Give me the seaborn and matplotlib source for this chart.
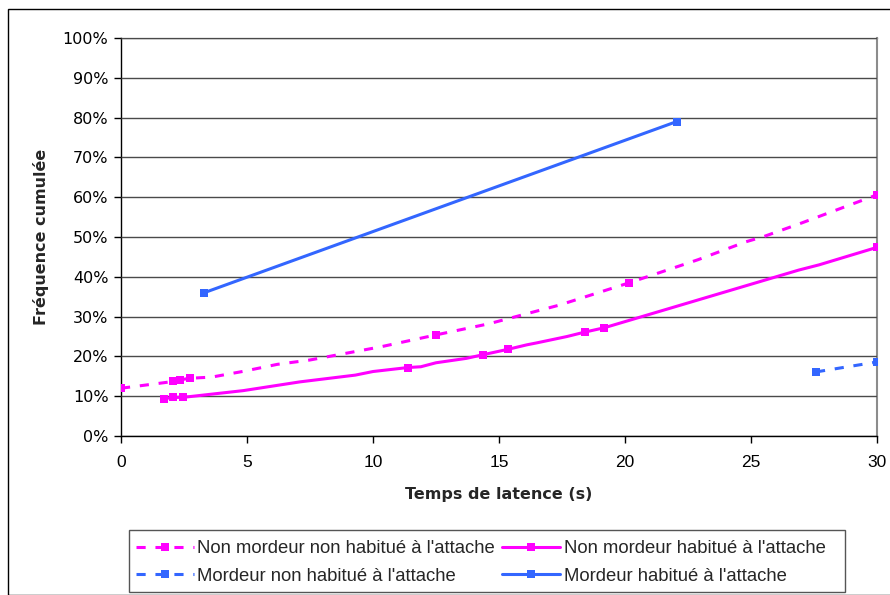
import matplotlib
matplotlib.use("Agg")
import matplotlib.pyplot as plt
import matplotlib.patches as mpatches
from matplotlib.ticker import FuncFormatter
import seaborn as sns
import pandas as pd

# Latency time (s) and cumulative frequency (%) per group
nmnh_x = [0, 2.08, 2.34, 2.72, 3.6, 4.9, 6.2, 7.5, 10.3, 12.5, 14.6, 17.4, 20.17, 22.9, 24.8, 25.5, 27.0, 30]
nmnh_y = [12.0, 13.7, 14.1, 14.5, 14.8, 16.3, 18.0, 19.1, 22.4, 25.4, 28.2, 32.9, 38.5, 44.3, 48.8, 50.1, 53.5, 60.6]
nmnh_marked = [0, 1, 2, 3, 9, 12, 17]

nmh_x = [1.72, 2.08, 2.45, 4.85, 7.1, 9.3, 10.0, 11.38, 11.9, 12.5, 13.7, 14.35, 15.37, 16.1, 16.5, 17.7, 18.4, 19.18, 26.9, 27.7, 30]
nmh_y = [9.4, 9.7, 9.7, 11.4, 13.6, 15.3, 16.2, 17.2, 17.4, 18.4, 19.5, 20.4, 21.8, 22.9, 23.4, 25.0, 26.1, 27.2, 41.7, 43.0, 47.4]
nmh_marked = [0, 1, 2, 7, 11, 12, 16, 17, 20]

mnh_x = [27.58, 30]
mnh_y = [16.1, 18.6]

mh_x = [3.3, 22.05]
mh_y = [36.0, 79.0]

labels = [
    "Non mordeur non habitué à l'attache",
    "Non mordeur habitué à l'attache",
    "Mordeur non habitué à l'attache",
    "Mordeur habitué à l'attache",
]

x_ticks = [0, 5, 10, 15, 20, 25, 30]
y_ticks = [0, 10, 20, 30, 40, 50, 60, 70, 80, 90, 100]

MAGENTA = "#FF00FF"
BLUE = "#3366FF"

sns.set_theme(style="white")
plt.rcParams["font.family"] = ["DejaVu Sans"]

fig = plt.figure(figsize=(8.9, 5.95), dpi=100)
ax = fig.add_axes([121 / 890, 1 - 436 / 595, (877 - 121) / 890, (436 - 38) / 595])

series = [
    (nmnh_x, nmnh_y, nmnh_marked, MAGENTA, (0, (3, 3.2)), labels[0]),
    (nmh_x, nmh_y, nmh_marked, MAGENTA, "-", labels[1]),
    (mnh_x, mnh_y, None, BLUE, (0, (3, 3.2)), labels[2]),
    (mh_x, mh_y, None, BLUE, "-", labels[3]),
]

handles = {}
for xs, ys, marked, color, ls, lab in series:
    df = pd.DataFrame({"t": xs, "f": ys})
    sns.lineplot(data=df, x="t", y="f", ax=ax, color=color, linewidth=2.2,
                 linestyle=ls, sort=False, estimator=None, legend=False)
    line = ax.lines[-1]
    line.set_marker("s")
    line.set_markersize(6)
    line.set_markerfacecolor(color)
    line.set_markeredgecolor(color)
    line.set_markeredgewidth(0)
    if marked is not None:
        line.set_markevery(marked)
    handles[lab] = line

ax.set_xlim(0, 30)
ax.set_ylim(0, 100)
ax.set_xticks(x_ticks)
ax.set_yticks(y_ticks)
ax.yaxis.set_major_formatter(FuncFormatter(lambda v, p: f"{int(v)}%"))
ax.tick_params(axis="both", which="major", direction="out", length=5, width=1,
               color="black", labelcolor="black", bottom=True, left=True)
ax.tick_params(axis="y", labelsize=11.5, pad=4)
ax.tick_params(axis="x", labelsize=12.5, pad=9)
for t in ax.get_xticklabels():
    t.set_fontfamily("Liberation Sans")

ax.grid(axis="y", color="#4a4a4a", linewidth=1.0)
ax.grid(axis="x", visible=False)
ax.set_axisbelow(True)

for side in ("left", "bottom"):
    ax.spines[side].set_color("black")
    ax.spines[side].set_linewidth(1.0)
ax.spines["right"].set_color("#8c8c8c")
ax.spines["right"].set_linewidth(1.5)
ax.spines["top"].set_color("#8c8c8c")
ax.spines["top"].set_linewidth(1.0)
for s in ax.spines.values():
    s.set_zorder(0.5)

ax.set_xlabel("Temps de latence (s)", fontsize=11.5, fontweight="bold", labelpad=12)
ax.set_ylabel("Fréquence cumulée", fontsize=11.5, fontweight="bold", labelpad=10)

# legend entries laid out in two columns, framed by a separate box
order = [labels[0], labels[2], labels[1], labels[3]]
leg = fig.legend([handles[k] for k in order], order, ncol=2,
                 loc="center left", bbox_to_anchor=(136 / 890, 1 - 562.5 / 595),
                 frameon=False,
                 handlelength=3.15, handletextpad=0.17, columnspacing=0.39,
                 labelspacing=0.55, borderaxespad=0, borderpad=0.0,
                 prop={"family": "Liberation Sans", "size": 13.3})

legend_box = mpatches.Rectangle((129 / 890, 1 - 592 / 595), (845 - 129) / 890, 62 / 595,
                                transform=fig.transFigure, fill=False,
                                edgecolor="#555555", linewidth=1.0)
fig.patches.append(legend_box)

# outer chart frame
frame = mpatches.Rectangle((8 / 890, 0), 1.2, 1 - 9 / 595, transform=fig.transFigure,
                           fill=False, edgecolor="black", linewidth=1.0, clip_on=False)
fig.patches.append(frame)

fig.savefig("out.png", dpi=100)
